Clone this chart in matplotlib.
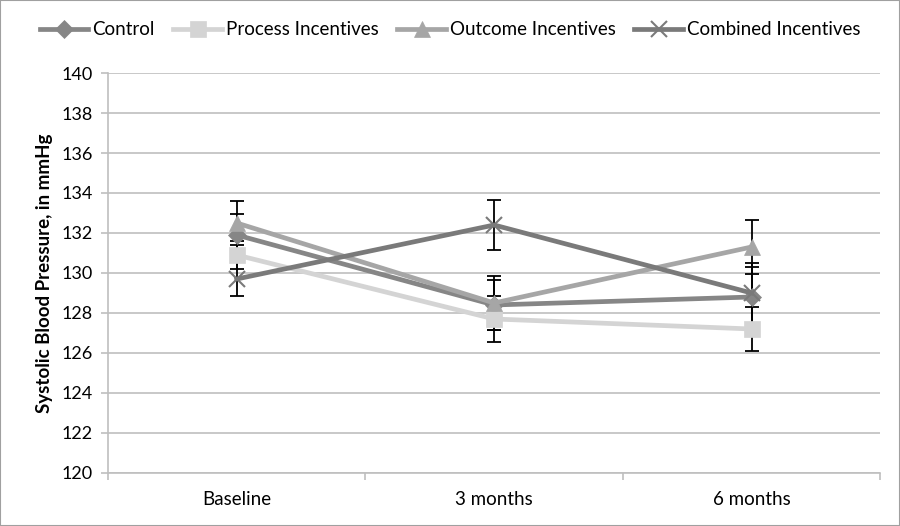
import matplotlib
matplotlib.use("Agg")
import matplotlib.pyplot as plt
from matplotlib.patches import Rectangle
from matplotlib.ticker import FixedLocator, NullFormatter

categories = ["Baseline", "3 months", "6 months"]
series_names = ["Control", "Process Incentives", "Outcome Incentives", "Combined Incentives"]
control = [131.9, 128.4, 128.8]
process = [130.9, 127.7, 127.2]
outcome = [132.5, 128.5, 131.3]
combined = [129.7, 132.4, 129.0]
control_err = [1.05, 1.25, 1.5]
process_err = [0.7, 1.15, 1.1]
outcome_err = [1.1, 1.35, 1.35]
combined_err = [0.85, 1.25, 1.5]
yticks = list(range(120, 141, 2))

font = ["Lato", "DejaVu Sans"]
plt.rcParams['font.family'] = font

fig = plt.figure(figsize=(9, 5.26), dpi=100)
ax = fig.add_axes([0.12, 0.1008, 0.858, 0.7604])

styles = [
    (control, control_err, "#868686", "D", 9),
    (process, process_err, "#d4d4d4", "s", 11),
    (outcome, outcome_err, "#a6a6a6", "^", 12),
    (combined, combined_err, "#7a7a7a", "x", 12),
]
x = list(range(len(categories)))
for (vals, err, col, mk, ms), name in zip(styles, series_names):
    ax.errorbar(x, vals, yerr=err, fmt="none", ecolor="black", elinewidth=1.3,
                capsize=5, capthick=1.3, zorder=2)
for (vals, err, col, mk, ms), name in zip(styles, series_names):
    ax.plot(x, vals, color=col, lw=3.4, marker=mk, markersize=ms,
            markeredgewidth=1.5 if mk == "x" else 0.5, markeredgecolor=col,
            label=name, zorder=3)

ax.set_xlim(-0.5, 2.5)
ax.set_ylim(120, 140)
ax.set_yticks(yticks)
ax.yaxis.grid(True, color="#bfbfbf", lw=1.2)
ax.set_axisbelow(True)
ax.xaxis.set_major_locator(FixedLocator([-0.5, 0.5, 1.5, 2.5]))
ax.xaxis.set_major_formatter(NullFormatter())
ax.xaxis.set_minor_locator(FixedLocator(x))
ax.set_xticklabels(categories, minor=True)
ax.tick_params(axis="x", which="minor", length=0, labelsize=13.5, pad=13)
ax.tick_params(axis="x", which="major", length=5, color="#bfbfbf", width=1.2)
ax.tick_params(axis="y", length=5, color="#bfbfbf", width=1.2, labelsize=13, pad=6)
for s in ["top", "right"]:
    ax.spines[s].set_visible(False)
for s in ["left", "bottom"]:
    ax.spines[s].set_color("#bfbfbf")
    ax.spines[s].set_linewidth(1.2)
ax.set_ylabel("Systolic Blood Pressure, in mmHg", fontsize=13.5, fontweight="bold", labelpad=6)

fig.legend(loc="center", bbox_to_anchor=(0.5, 0.943), ncol=4, frameon=False,
           fontsize=13.5, handlelength=2.6, columnspacing=1.0, handletextpad=0.2)

fig.patches.append(Rectangle((0, 0), 1, 1, transform=fig.transFigure, fill=False,
                             edgecolor="#a0a0a0", lw=1.5))
fig.savefig("out.png", dpi=100)
